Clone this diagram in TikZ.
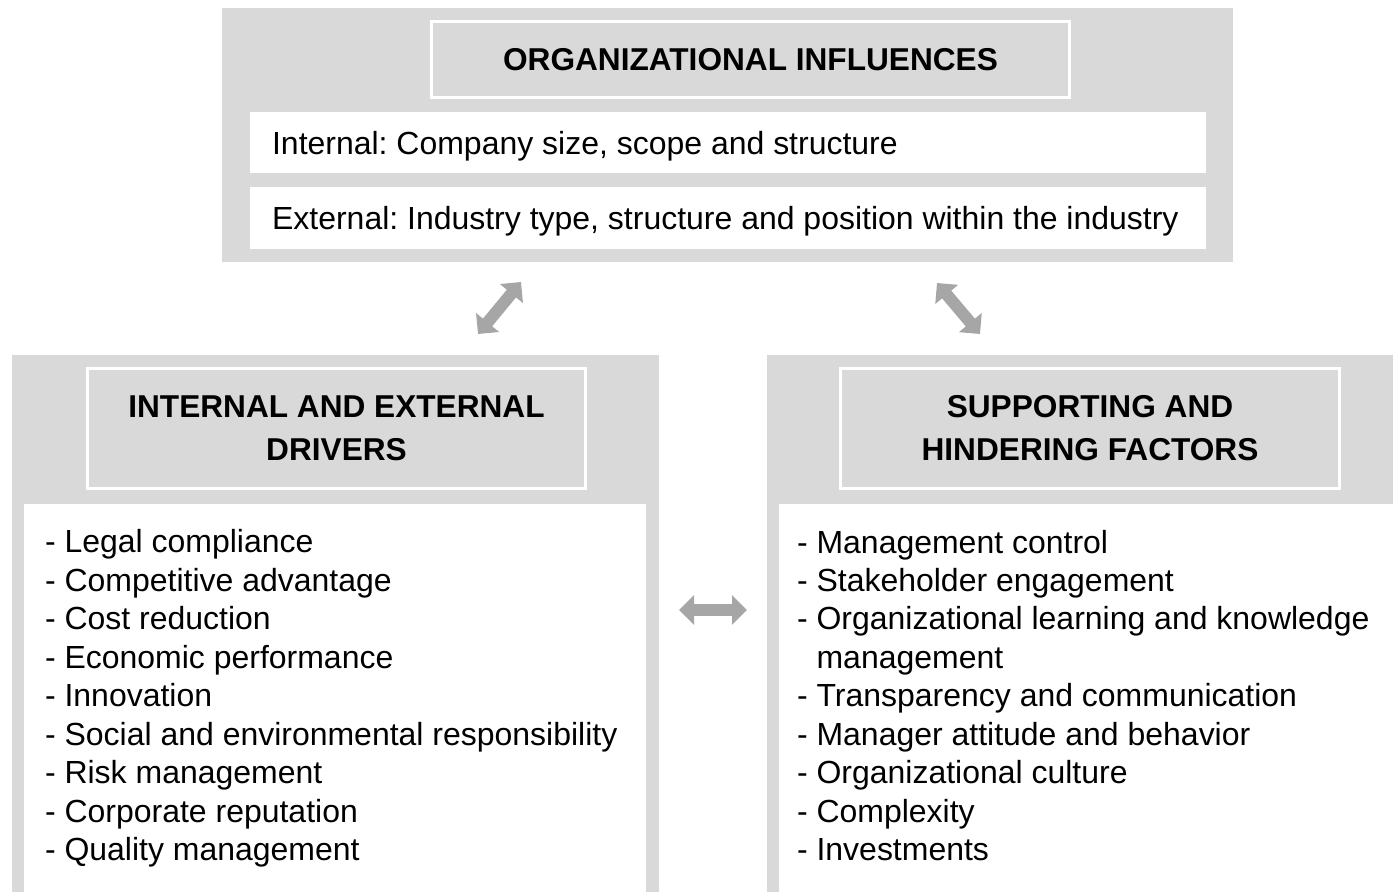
\documentclass[tikz,border=0pt]{standalone}
\usepackage{xcolor}
\usepackage{fontspec}
\setmainfont{Liberation Sans}
\usetikzlibrary{arrows.meta, positioning}

\definecolor{panelgray}{HTML}{D9D9D9}
\definecolor{arrowgray}{HTML}{A6A6A6}

\begin{document}
\frenchspacing
\begin{tikzpicture}[
    x=0.02cm, y=-0.02cm,
    panel/.style={fill=panelgray, draw=none, inner sep=0pt},
    head_box/.style={fill=panelgray, draw=white, line width=0.06cm, align=center, inner sep=0pt, font=\fontsize{18}{24.4}\selectfont\bfseries},
    item_box/.style={fill=white, draw=none, inner sep=0pt},
    item_text/.style={align=left, inner sep=0pt, anchor=west, font=\fontsize{18.2}{21.9}\selectfont},
    link_arrow/.style={draw=arrowgray, line width=0.24cm, {Triangle[width=0.58cm, length=0.3cm]}-{Triangle[width=0.58cm, length=0.3cm]}}
]
    \useasboundingbox (0,0) rectangle (1393,892);

    % Organizational influences
    \node (org_panel) [panel, minimum width=20.22cm, minimum height=5.08cm] at (727.5, 135) {};
    \node (org_head) [head_box, minimum width=12.76cm, minimum height=1.52cm] at (750.5, 59.5) {ORGANIZATIONAL INFLUENCES};
    \node (org_int) [item_box, minimum width=19.12cm, minimum height=1.22cm] at (728, 142.5) {};
    \node (org_ext) [item_box, minimum width=19.12cm, minimum height=1.24cm] at (728, 218) {};
    \node (int_text) [item_text, right=0.44cm of org_int.west, yshift=-0.07cm] {Internal: Company size, scope and structure};
    \node (ext_text) [item_text, right=0.44cm of org_ext.west, yshift=-0.06cm] {External: Industry type, structure and position within the industry};

    % Drivers
    \node (drv_panel) [panel, minimum width=12.94cm, minimum height=10.74cm] at (335.5, 623.5) {};
    \node (drv_head) [head_box, minimum width=9.96cm, minimum height=2.4cm] at (336.5, 428.5) {INTERNAL AND EXTERNAL\\DRIVERS};
    \node (drv_list) [item_box, minimum width=12.44cm, minimum height=7.76cm] at (335, 698) {};
    \node (drv_text) [item_text, right=0.42cm of drv_list.west, yshift=-0.01cm] {%
        - Legal compliance\\
        - Competitive advantage\\
        - Cost reduction\\
        - Economic performance\\
        - Innovation\\
        - Social and environmental responsibility\\
        - Risk management\\
        - Corporate reputation\\
        - Quality management};

    % Factors
    \node (fac_panel) [panel, minimum width=12.52cm, minimum height=10.74cm] at (1080, 623.5) {};
    \node (fac_head) [head_box, minimum width=9.98cm, minimum height=2.4cm] at (1090, 428.5) {SUPPORTING AND\\HINDERING FACTORS};
    \node (fac_list) [item_box, minimum width=12.28cm, minimum height=7.76cm] at (1086, 698) {};
    \node (fac_text) [item_text, right=0.36cm of fac_list.west, yshift=0.05cm] {%
        - Management control\\
        - Stakeholder engagement\\
        - Organizational learning and knowledge\\
        \phantom{- }management\\
        - Transparency and communication\\
        - Manager attitude and behavior\\
        - Organizational culture\\
        - Complexity\\
        - Investments};

    % Arrows
    \coordinate (drv_top) at (478, 334);
    \coordinate (org_left) at (521, 282);
    \coordinate (org_right) at (937, 283);
    \coordinate (fac_top) at (980, 334);
    \coordinate (drv_right) at (679, 610);
    \coordinate (fac_left) at (747, 610);
    \draw [link_arrow] (drv_top) -- (org_left);
    \draw [link_arrow] (org_right) -- (fac_top);
    \draw [link_arrow] (drv_right) -- (fac_left);
\end{tikzpicture}
\end{document}
